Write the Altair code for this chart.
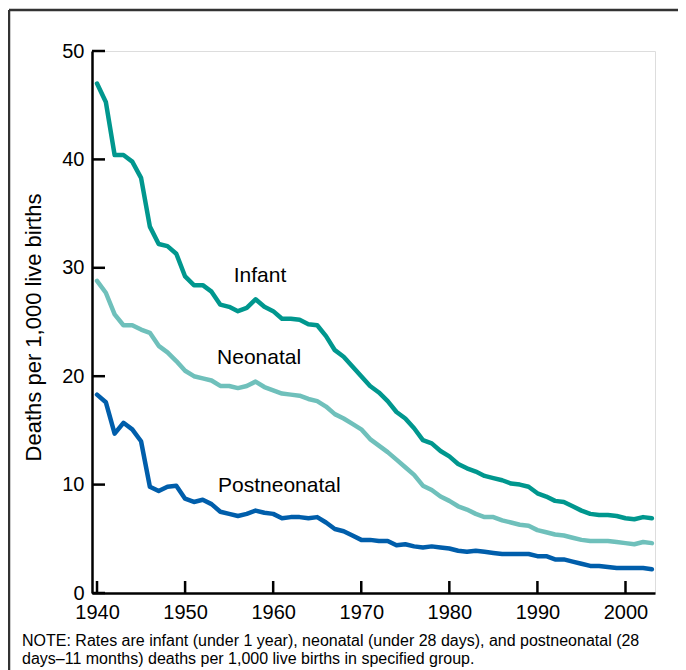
import altair as alt
import pandas as pd

years = list(range(1940, 2004))
infant = [47.0, 45.3, 40.4, 40.4, 39.8, 38.3, 33.8, 32.2, 32.0, 31.3,
          29.2, 28.4, 28.4, 27.8, 26.6, 26.4, 26.0, 26.3, 27.1, 26.4,
          26.0, 25.3, 25.3, 25.2, 24.8, 24.7, 23.7, 22.4, 21.8, 20.9,
          20.0, 19.1, 18.5, 17.7, 16.7, 16.1, 15.2, 14.1, 13.8, 13.1,
          12.6, 11.9, 11.5, 11.2, 10.8, 10.6, 10.4, 10.1, 10.0, 9.8,
          9.2, 8.9, 8.5, 8.4, 8.0, 7.6, 7.3, 7.2, 7.2, 7.1,
          6.9, 6.8, 7.0, 6.9]
neonatal = [28.8, 27.7, 25.7, 24.7, 24.7, 24.3, 24.0, 22.8, 22.2, 21.4,
            20.5, 20.0, 19.8, 19.6, 19.1, 19.1, 18.9, 19.1, 19.5, 19.0,
            18.7, 18.4, 18.3, 18.2, 17.9, 17.7, 17.2, 16.5, 16.1, 15.6,
            15.1, 14.2, 13.6, 13.0, 12.3, 11.6, 10.9, 9.9, 9.5, 8.9,
            8.5, 8.0, 7.7, 7.3, 7.0, 7.0, 6.7, 6.5, 6.3, 6.2,
            5.8, 5.6, 5.4, 5.3, 5.1, 4.9, 4.8, 4.8, 4.8, 4.7,
            4.6, 4.5, 4.7, 4.6]
postneonatal = [18.3, 17.6, 14.7, 15.7, 15.1, 14.0, 9.8, 9.4, 9.8, 9.9,
                8.7, 8.4, 8.6, 8.2, 7.5, 7.3, 7.1, 7.3, 7.6, 7.4,
                7.3, 6.9, 7.0, 7.0, 6.9, 7.0, 6.5, 5.9, 5.7, 5.3,
                4.9, 4.9, 4.8, 4.8, 4.4, 4.5, 4.3, 4.2, 4.3, 4.2,
                4.1, 3.9, 3.8, 3.9, 3.8, 3.7, 3.6, 3.6, 3.6, 3.6,
                3.4, 3.4, 3.1, 3.1, 2.9, 2.7, 2.5, 2.5, 2.4, 2.3,
                2.3, 2.3, 2.3, 2.2]

series_names = ["Infant", "Neonatal", "Postneonatal"]
series_colors = ["#00978e", "#6fc0bb", "#005eab"]
label_years = [1958.5, 1958.4, 1960.7]
label_values = [29.2, 21.7, 9.9]
x_ticks = [1940, 1950, 1960, 1970, 1980, 1990, 2000]
y_ticks = [0, 10, 20, 30, 40, 50]
note_lines = [
    "NOTE: Rates are infant (under 1 year), neonatal (under 28 days), and postneonatal (28",
    "days\u201311 months) deaths per 1,000 live births in specified group.",
]

FONT = "Liberation Sans"
W, H = 563, 542

rows = []
for name, vals in zip(series_names, [infant, neonatal, postneonatal]):
    for yr, v in zip(years, vals):
        rows.append({"year": yr, "value": v, "series": name})
df = pd.DataFrame(rows)

xs = alt.Scale(domain=[1939.43, 2003.35], nice=False, zero=False)
ys = alt.Scale(domain=[0, 50], nice=False)

lines = alt.Chart(df).mark_line(
    strokeWidth=4.5, strokeCap="round", strokeJoin="round"
).encode(
    x=alt.X("year:Q", scale=xs, axis=alt.Axis(
        values=x_ticks, format="d", ticks=False, grid=False, title=None,
        domainWidth=2.5, domainColor="black", labelFontSize=20,
        labelFont=FONT, labelColor="black", labelPadding=9,
        labelFlush=False)),
    y=alt.Y("value:Q", scale=ys, axis=alt.Axis(
        values=y_ticks, ticks=False, grid=False,
        title="Deaths per 1,000 live births", titleFont=FONT,
        titleFontSize=22, titleFontWeight="normal", titleColor="black",
        titleX=-59, titleY=276, titleAngle=270, titleAlign="center",
        titleBaseline="middle",
        domainWidth=2.5, domainColor="black", labelFontSize=20,
        labelFont=FONT, labelColor="black", labelPadding=8,
        labelFlush=False)),
    color=alt.Color("series:N", scale=alt.Scale(domain=series_names, range=series_colors),
                    legend=None),
)

xt = alt.Chart(pd.DataFrame({"year": x_ticks})).mark_rule(
    color="black", strokeWidth=2.5
).encode(x=alt.X("year:Q", scale=xs), y=alt.value(H), y2=alt.value(H - 12))

yt = alt.Chart(pd.DataFrame({"value": y_ticks})).mark_rule(
    color="black", strokeWidth=2.5
).encode(y=alt.Y("value:Q", scale=ys), x=alt.value(0), x2=alt.value(13))

labels = alt.Chart(pd.DataFrame({
    "year": label_years, "value": label_values, "name": series_names
})).mark_text(fontSize=21, font=FONT, color="black").encode(
    x=alt.X("year:Q", scale=xs), y=alt.Y("value:Q", scale=ys), text="name:N"
)

one = pd.DataFrame({"a": [0]})
frame_left = alt.Chart(one).mark_rule(color="#333333", strokeWidth=2.5).encode(
    x=alt.value(-83), y=alt.value(-41), y2=alt.value(640))
frame_top = alt.Chart(one).mark_rule(color="#333333", strokeWidth=2.5).encode(
    x=alt.value(-83), x2=alt.value(720), y=alt.value(-41))

note = alt.Chart(one).mark_text(
    align="left", baseline="alphabetic", fontSize=16, font=FONT, color="black",
    lineBreak="\n", lineHeight=18
).encode(x=alt.value(-70), y=alt.value(595), text=alt.value("\n".join(note_lines)))

chart = alt.layer(lines, xt, yt, labels, frame_left, frame_top, note).properties(
    width=W, height=H,
    autosize=alt.AutoSizeParams(type="none"),
    padding={"left": 84, "top": 43, "right": 23, "bottom": 77},
).configure_view(stroke=None).configure(background="white")

chart.save("out.html", embed_options={"renderer": "svg", "actions": False})
